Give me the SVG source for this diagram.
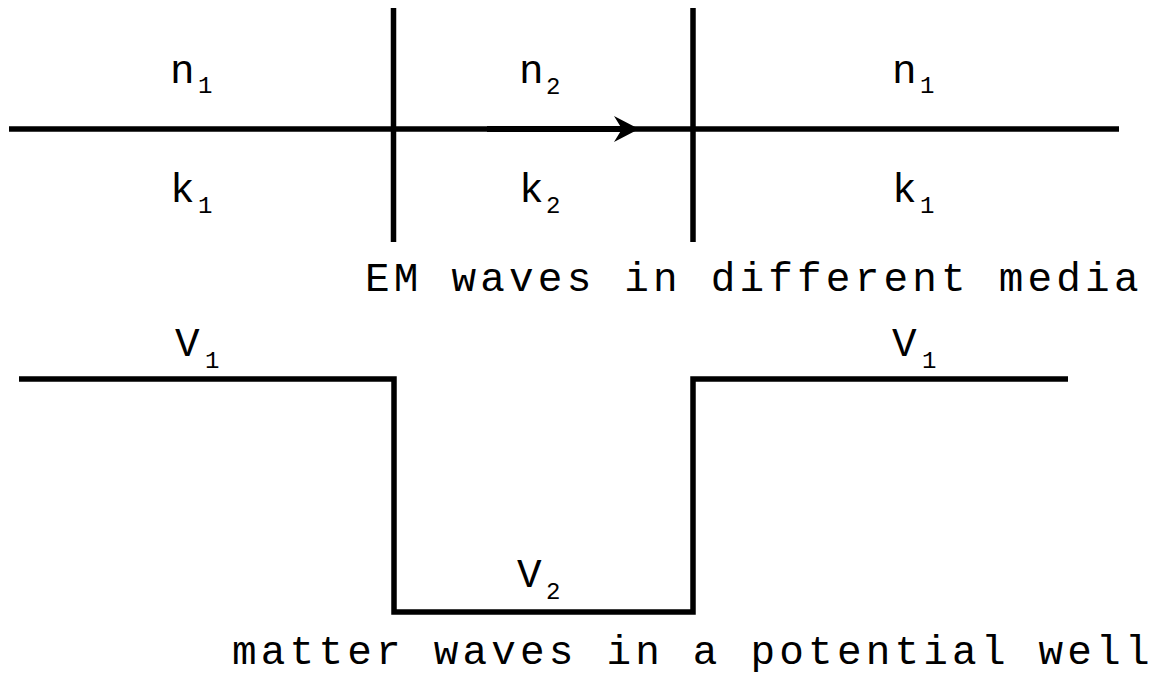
<svg xmlns="http://www.w3.org/2000/svg" width="1159" height="677" viewBox="0 0 1159 677">
<style>
.ln{stroke:#000;stroke-width:5.5;fill:none;stroke-linejoin:miter;stroke-linecap:butt}
.t{font-family:"Courier New","Nimbus Mono PS","Nimbus Mono L",FreeMono,Courier,"Liberation Mono",monospace;fill:#000}
.m{font-size:41px}
.s{font-size:24px}
.cap{font-size:41px;letter-spacing:4.2px}
</style>
<rect width="1159" height="677" fill="#fff"/>
<g id="connectors">
<line class="ln" x1="9" y1="129" x2="1119" y2="129"/>
<line class="ln" x1="393.5" y1="8" x2="393.5" y2="242"/>
<line class="ln" x1="693" y1="8" x2="693" y2="242"/>
<line class="ln" x1="487" y1="129" x2="625" y2="129" style="stroke-width:6"/>
<path d="M639,129 L614,116 L622,129 L614,142 Z" fill="#000"/>
<path class="ln" d="M19,379 H394 V612 H693 V379 H1068"/>
</g>
<g id="label-n1-left"><text class="t" y="83"><tspan class="m" x="170">n</tspan><tspan class="s" x="198" y="93">1</tspan></text></g>
<g id="label-k1-left"><text class="t" y="202"><tspan class="m" x="170">k</tspan><tspan class="s" x="198" y="213">1</tspan></text></g>
<g id="label-n2"><text class="t" y="83"><tspan class="m" x="519">n</tspan><tspan class="s" x="546" y="94">2</tspan></text></g>
<g id="label-k2"><text class="t" y="202"><tspan class="m" x="519">k</tspan><tspan class="s" x="546" y="213">2</tspan></text></g>
<g id="label-n1-right"><text class="t" y="83"><tspan class="m" x="892">n</tspan><tspan class="s" x="920" y="93">1</tspan></text></g>
<g id="label-k1-right"><text class="t" y="202"><tspan class="m" x="892">k</tspan><tspan class="s" x="920" y="213">1</tspan></text></g>
<g id="caption-em"><text class="t cap" x="365" y="291">EM waves in different media</text></g>
<g id="label-V1-left"><text class="t" y="356"><tspan class="m" x="175">V</tspan><tspan class="s" x="205" y="368">1</tspan></text></g>
<g id="label-V1-right"><text class="t" y="356"><tspan class="m" x="892">V</tspan><tspan class="s" x="922" y="368">1</tspan></text></g>
<g id="label-V2"><text class="t" y="587"><tspan class="m" x="517">V</tspan><tspan class="s" x="546" y="599">2</tspan></text></g>
<g id="caption-matter"><text class="t cap" x="232" y="664">matter waves in a potential well</text></g>
</svg>
